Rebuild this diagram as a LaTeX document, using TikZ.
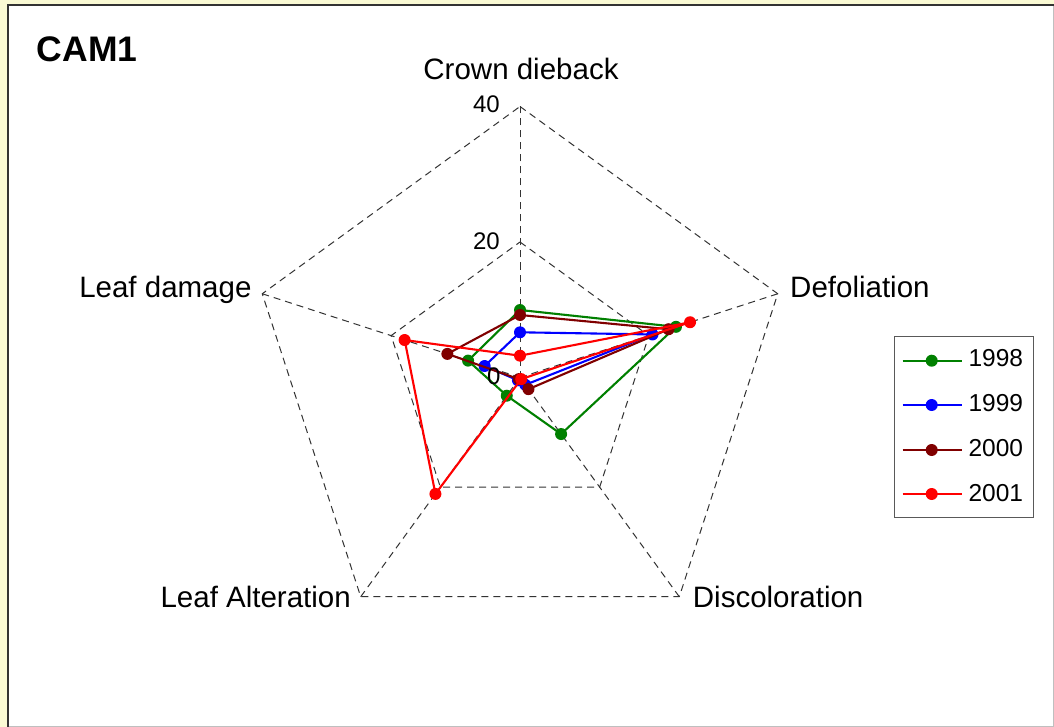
\documentclass[tikz,border=0pt]{standalone}
\usepackage{fontspec}
\setmainfont{Liberation Sans}
\definecolor{c98}{RGB}{0,128,0}
\definecolor{c99}{RGB}{0,0,255}
\definecolor{c00}{RGB}{128,0,0}
\definecolor{c01}{RGB}{255,0,0}
\definecolor{bgyellow}{RGB}{250,250,212}
\begin{document}
\begin{tikzpicture}[x=1pt,y={(0pt,-1pt)},
  gridline/.style={dash pattern=on 7pt off 5pt, line width=1pt, draw=black!80},
  series/.style={line width=2.1pt, line join=round},
  axlab/.style={inner sep=0pt, font=\fontsize{29.5}{30}\selectfont},
  ticklab/.style={inner sep=0pt, font=\fontsize{24}{26}\selectfont, anchor=base east},
  leglab/.style={inner sep=0pt, font=\fontsize{24.5}{26}\selectfont, anchor=base west}]
\useasboundingbox (0,0) rectangle (1054,727);
% frame
\fill[bgyellow] (0,0) rectangle (1054,727);
\fill[white] (8,5) rectangle (1054,727);
\draw[line width=1pt, black!25] (1053.5,5) -- (1053.5,726.5) -- (8,726.5);
\draw[line width=2pt, black!80] (8,727) -- (8,5) -- (1054,5);
% title
\node[inner sep=0pt, anchor=base west, font=\fontsize{35.5}{36}\selectfont\bfseries] (title) at (36.7,61.7) {CAM1};
\begin{scope}[shift={(520,377.5)}]
  \coordinate (c) at (0,0);
  \coordinate (o1) at (-90:271);
  \coordinate (o2) at (-18:271);
  \coordinate (o3) at (54:271);
  \coordinate (o4) at (126:271);
  \coordinate (o5) at (198:271);
  \coordinate (i1) at (-90:135.5);
  \coordinate (i2) at (-18:135.5);
  \coordinate (i3) at (54:135.5);
  \coordinate (i4) at (126:135.5);
  \coordinate (i5) at (198:135.5);
  % 1998
  \coordinate (g1) at (-90:67.5);
  \coordinate (g2) at (-18:164);
  \coordinate (g3) at (54:69.9);
  \coordinate (g4) at (126:22.5);
  \coordinate (g5) at (198:54.6);
  % 1999
  \coordinate (b1) at (-90:45.2);
  \coordinate (b2) at (-18:139.3);
  \coordinate (b3) at (54:9);
  \coordinate (b4) at (126:3.5);
  \coordinate (b5) at (198:37.2);
  % 2000
  \coordinate (d1) at (-90:62.5);
  \coordinate (d2) at (-18:156.2);
  \coordinate (d3) at (54:14.4);
  \coordinate (d4) at (126:2);
  \coordinate (d5) at (198:76.4);
  % 2001
  \coordinate (r1) at (-90:21.8);
  \coordinate (r2) at (-18:178.8);
  \coordinate (r3) at (54:2);
  \coordinate (r4) at (126:143.9);
  \coordinate (r5) at (198:121.3);
\end{scope}
% grid
\draw[gridline] (o1) -- (o2) -- (o3) -- (o4) -- (o5) -- cycle;
\draw[gridline] (i1) -- (i2) -- (i3) -- (i4) -- (i5) -- cycle;
\foreach \k in {1,...,5} { \draw[gridline] (c) -- (o\k); }
% series
\draw[series, c98] (g1) -- (g2) -- (g3) -- (g4) -- (g5) -- cycle;
\foreach \p in {g1,g2,g3,g4,g5} { \fill[c98] (\p) circle (6); }
\draw[series, c99] (b1) -- (b2) -- (b3) -- (b4) -- (b5) -- cycle;
\foreach \p in {b1,b2,b3,b4,b5} { \fill[c99] (\p) circle (6); }
\draw[series, c00] (d1) -- (d2) -- (d3) -- (d4) -- (d5) -- cycle;
\foreach \p in {d1,d2,d3,d4,d5} { \fill[c00] (\p) circle (6); }
\draw[series, c01] (r1) -- (r2) -- (r3) -- (r4) -- (r5) -- cycle;
\foreach \p in {r1,r2,r3,r4,r5} { \fill[c01] (\p) circle (6); }
% tick labels
\node[ticklab] (t40) at (500,112.7) {40};
\node[ticklab] (t20) at (500,250) {20};
\node[ticklab] (t0) at (500.7,384.3) {0};
% axis labels
\node[axlab, anchor=base] (lcrown) at (521,80) {Crown dieback};
\node[axlab, anchor=base west] (ldefol) at (790,297.7) {Defoliation};
\node[axlab, anchor=base east] (ldam) at (251.7,297.7) {Leaf damage};
\node[axlab, anchor=base east] (lalt) at (351,607.7) {Leaf Alteration};
\node[axlab, anchor=base west] (ldisc) at (692.7,607.7) {Discoloration};
% legend
\node[draw=black!65, line width=1pt, minimum width=139pt, minimum height=181pt, inner sep=0pt] (legbox) at (963.8,427.2) {};
\coordinate (l1a) at (902.7,360.7); \coordinate (l1b) at (961.7,360.7); \coordinate (l1m) at (931.7,360.7);
\coordinate (l2a) at (902.7,405); \coordinate (l2b) at (961.7,405); \coordinate (l2m) at (931.7,405);
\coordinate (l3a) at (902.7,450); \coordinate (l3b) at (961.7,450); \coordinate (l3m) at (931.7,450);
\coordinate (l4a) at (902.7,494); \coordinate (l4b) at (961.7,494); \coordinate (l4m) at (931.7,494);
\draw[series, c98] (l1a) -- (l1b); \fill[c98] (l1m) circle (6);
\draw[series, c99] (l2a) -- (l2b); \fill[c99] (l2m) circle (6);
\draw[series, c00] (l3a) -- (l3b); \fill[c00] (l3m) circle (6);
\draw[series, c01] (l4a) -- (l4b); \fill[c01] (l4m) circle (6);
\node[leglab] (y98) at (968.3,366.7) {1998};
\node[leglab] (y99) at (968.3,411.7) {1999};
\node[leglab] (y00) at (968.3,456.7) {2000};
\node[leglab] (y01) at (968.3,501) {2001};
\end{tikzpicture}
\end{document}
